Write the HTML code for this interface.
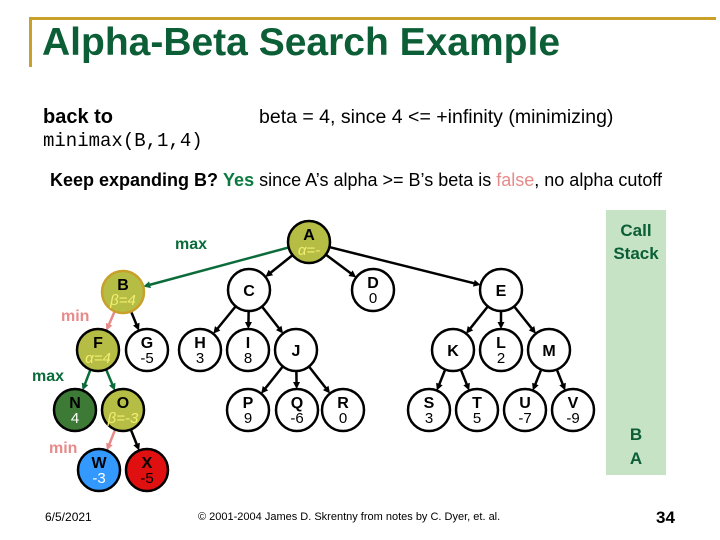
<!DOCTYPE html>
<html><head><meta charset="utf-8"><style>
body{margin:0;width:720px;height:540px;background:#fff;overflow:hidden;font-family:"Liberation Sans",sans-serif;position:relative}
.t{position:absolute;white-space:nowrap}
</style></head><body>
<div class="t" style="left:30px;top:17px;width:686px;height:3px;background:#c8a02a"></div>
<div class="t" style="left:29px;top:17px;width:3px;height:50px;background:#c8a02a"></div>
<div class="t" style="left:42px;top:21px;font-size:39px;font-weight:bold;color:#0b5e36">Alpha-Beta Search Example</div>
<div class="t" style="left:43px;top:106px;font-size:20px;font-weight:bold">back to</div>
<div class="t" style="left:43px;top:130px;font-size:19px;font-family:'Liberation Mono',monospace">minimax(B,1,4)</div>
<div class="t" style="left:259px;top:106px;font-size:19.5px">beta = 4, since 4 &lt;= +infinity (minimizing)</div>
<div class="t" style="left:50px;top:170px;font-size:18px"><b>Keep expanding B?</b> <b style="color:#0b7a3e">Yes</b> since A’s alpha &gt;= B’s beta is <span style="color:#e88a8a">false</span>, no alpha cutoff</div>
<div class="t" style="left:606px;top:210px;width:60px;height:265px;background:#c6e3c6"></div>
<div class="t" style="left:606px;top:219px;width:60px;text-align:center;font-size:17px;font-weight:bold;color:#0b5e36;line-height:23px">Call<br>Stack</div>
<div class="t" style="left:606px;top:423px;width:60px;text-align:center;font-size:17px;font-weight:bold;color:#0b5e36;line-height:24px">B<br>A</div>
<svg id="s" width="720" height="540" style="position:absolute;left:0;top:0" xmlns="http://www.w3.org/2000/svg"></svg>
<div class="t" style="left:45px;top:510px;font-size:12px">6/5/2021</div>
<div class="t" style="left:198px;top:511px;font-size:11px">© 2001-2004 James D. Skrentny from notes by C. Dyer, et. al.</div>
<div class="t" style="left:656px;top:508px;font-size:17px;font-weight:bold">34</div>
<script>
var N={A:[309,242,'#b5bd45','A','α=-','#f4ee70',0,1],B:[123,292,'#b5bd45','B','β=4','#f4ee70','#c8a02a',1],C:[249,290,'#fff','C'],D:[373,290,'#fff','D','0'],E:[501,290,'#fff','E'],
F:[98,350,'#b5bd45','F','α=4','#f4ee70',0,1],G:[147,350,'#fff','G','-5'],H:[200,350,'#fff','H','3'],I:[248,350,'#fff','I','8'],J:[296,350,'#fff','J'],
K:[453,350,'#fff','K'],L:[501,350,'#fff','L','2'],M:[549,350,'#fff','M'],
N:[75,410,'#3d7a35','N','4','#fff'],O:[123,410,'#b5bd45','O','β=-3','#f4ee70',0,1],P:[248,410,'#fff','P','9'],Q:[297,410,'#fff','Q','-6'],R:[343,410,'#fff','R','0'],
S:[429,410,'#fff','S','3'],T:[477,410,'#fff','T','5'],U:[525,410,'#fff','U','-7'],V:[573,410,'#fff','V','-9'],
W:[99,470,'#3399ff','W','-3','#fff'],X:[147,470,'#e01010','X','-5','#000']};
var E=[['A','B','#0b6b3a'],['A','C'],['A','D'],['A','E'],['B','F','#e88a8a'],['B','G'],['C','H'],['C','I'],['C','J'],['J','P'],['J','Q'],['J','R'],
['E','K'],['E','L'],['E','M'],['K','S'],['K','T'],['M','U'],['M','V'],['F','N','#0b6b3a'],['F','O','#0b6b3a'],['O','W','#e88a8a'],['O','X']];
var r=21,h='';
E.forEach(function(e){var a=N[e[0]],b=N[e[1]],c=e[2]||'#000';var dx=b[0]-a[0],dy=b[1]-a[1],d=Math.hypot(dx,dy),ux=dx/d,uy=dy/d;
var x1=a[0]+ux*r,y1=a[1]+uy*r,x2=b[0]-ux*r,y2=b[1]-uy*r;
h+='<line x1="'+x1+'" y1="'+y1+'" x2="'+(x2-ux*5)+'" y2="'+(y2-uy*5)+'" stroke="'+c+'" stroke-width="2.5"/>';
var px=-uy,py=ux;h+='<polygon points="'+x2+','+y2+' '+(x2-ux*7+px*3.5)+','+(y2-uy*7+py*3.5)+' '+(x2-ux*7-px*3.5)+','+(y2-uy*7-py*3.5)+'" fill="'+c+'"/>';});
for(var k in N){var n=N[k];h+='<circle cx="'+n[0]+'" cy="'+n[1]+'" r="'+r+'" fill="'+n[2]+'" stroke="'+(n[6]||'#000')+'" stroke-width="2.5"/>';
if(n[4]){h+='<text x="'+n[0]+'" y="'+(n[1]-2)+'" font-size="16" font-weight="bold" text-anchor="middle" font-family="Liberation Sans">'+n[3]+'</text>';
h+='<text x="'+n[0]+'" y="'+(n[1]+13)+'" font-size="15" text-anchor="middle" font-family="Liberation Sans" fill="'+(n[5]||'#000')+'"'+(n[7]?' font-style="italic"':'')+'>'+n[4]+'</text>';}
else h+='<text x="'+n[0]+'" y="'+(n[1]+6)+'" font-size="16" font-weight="bold" text-anchor="middle" font-family="Liberation Sans">'+n[3]+'</text>';}
h+='<text x="175" y="249" font-size="16" font-weight="bold" fill="#0b6b3a" font-family="Liberation Sans">max</text>';
h+='<text x="61" y="321" font-size="16" font-weight="bold" fill="#e88a8a" font-family="Liberation Sans">min</text>';
h+='<text x="32" y="381" font-size="16" font-weight="bold" fill="#0b6b3a" font-family="Liberation Sans">max</text>';
h+='<text x="49" y="453" font-size="16" font-weight="bold" fill="#e88a8a" font-family="Liberation Sans">min</text>';
document.getElementById('s').innerHTML=h;
</script>
</body></html>
